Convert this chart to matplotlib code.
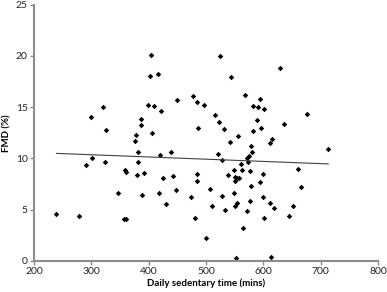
import numpy as np
import matplotlib
matplotlib.use("Agg")
import matplotlib.pyplot as plt

# daily sedentary time (mins) vs FMD (%)
sed_time = [239, 279, 291, 300, 301, 321, 324, 326, 346, 357, 360, 359, 361,
            376, 377, 380, 381, 382, 387, 387, 389, 392, 399, 402, 404, 406,
            410, 416, 418, 420, 421, 425, 430, 438, 443, 447, 450, 473, 478,
            481, 485, 485, 485, 486, 496, 499, 506, 511, 515, 521, 523, 525,
            527, 527, 531, 533, 538, 541, 544, 548, 549, 550, 550, 550, 553,
            554, 554, 555, 557, 561, 563, 565, 568, 571, 571, 573, 575, 577,
            577, 578, 579, 580, 582, 582, 588, 590, 594, 594, 596, 599, 599,
            601, 601, 612, 612, 613, 615, 619, 629, 636, 644, 651, 660, 665,
            676, 713]
fmd = [4.56, 4.36, 9.3, 14.0, 10.0, 15.0, 9.66, 12.75, 6.6, 4.07, 4.07, 8.88,
       8.65, 11.65, 12.3, 8.35, 10.6, 9.6, 13.8, 13.3, 6.38, 8.53, 15.2, 18.05,
       20.07, 12.5, 15.1, 18.28, 6.57, 10.3, 14.6, 8.1, 5.56, 10.65, 8.23,
       6.93, 15.68, 6.2, 16.04, 4.17, 15.5, 8.43, 7.78, 13.0, 15.2, 2.25, 7.03,
       5.3, 14.25, 10.38, 13.57, 20.0, 9.8, 6.28, 12.9, 5.0, 8.33, 11.6, 17.9,
       8.88, 6.57, 8.2, 7.75, 5.3, 0.3, 8.05, 5.63, 12.2, 8.1, 9.47, 8.88,
       3.22, 16.2, 10.0, 4.82, 9.66, 10.2, 5.82, 8.75, 11.2, 7.32, 10.63,
       15.1, 12.65, 13.7, 14.97, 15.8, 7.7, 13.0, 8.46, 6.19, 14.8, 4.2, 11.5,
       5.6, 0.33, 11.87, 5.17, 18.8, 13.34, 4.36, 5.34, 9.0, 7.16, 14.28, 10.9]

# linear trend line
slope = -0.00217
intercept = 11.0

x_ticks = [200, 300, 400, 500, 600, 700, 800]
y_ticks = [0, 5, 10, 15, 20, 25]

plt.rcParams['font.family'] = ['Lato', 'DejaVu Sans']

fig = plt.figure(figsize=(3.87, 2.92), dpi=100)
ax = fig.add_axes([0.088, 0.107, 0.889, 0.877])

ax.plot(sed_time, fmd, 'D', color='black', markersize=2.8, markeredgewidth=0)

x_line = np.array([min(sed_time), max(sed_time)])
ax.plot(x_line, intercept + slope * x_line, color='#404040', linewidth=0.8)

ax.set_xlim(200, 800)
ax.set_ylim(0, 25)
ax.set_xticks(x_ticks)
ax.set_yticks(y_ticks)

for side in ['top', 'right']:
    ax.spines[side].set_visible(False)
for side in ['left', 'bottom']:
    ax.spines[side].set_color('#8c8c8c')
    ax.spines[side].set_linewidth(1.5)

ax.tick_params(colors='#8c8c8c', labelcolor='#222222', labelsize=7.5,
               length=3, width=1, direction='out', pad=1.5)

ax.set_xlabel('Daily sedentary time (mins)', fontsize=7, fontweight='bold', labelpad=2)
ax.set_ylabel('FMD (%)', fontsize=7, fontweight='bold', labelpad=3)

fig.savefig('out.png', dpi=100)
